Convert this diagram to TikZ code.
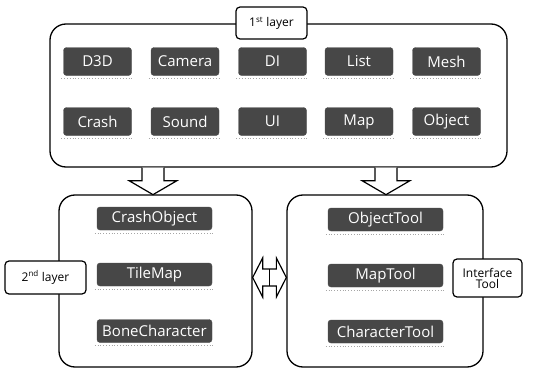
\documentclass[tikz,border=0pt]{standalone}
\usepackage{fontspec}
\setmainfont{Open Sans}
\usetikzlibrary{calc}
\begin{document}
\begin{tikzpicture}[x=1pt,y=-1pt,
  bigbox/.style={draw, line width=1.3pt, rounded corners=16pt, fill=white, inner sep=0pt},
  lbl/.style={draw, line width=1.2pt, rounded corners=4pt, fill=white, font=\fontsize{12}{13}\selectfont, inner sep=1pt, align=center},
  mod/.style={draw=gray!60!black, fill=black!72, rounded corners=3pt, text=white, font=\fontsize{15}{16}\selectfont, inner sep=0pt},
  modA/.style={mod, minimum width=68pt, minimum height=28pt},
  modB/.style={mod, minimum width=115pt, minimum height=23pt},
  shadowline/.style={draw=gray!70, line width=0.8pt, dotted},
  blockarrow/.style={draw, line width=1.2pt, fill=white, line join=miter}
]
\useasboundingbox (0,0) rectangle (560,372);

% top layer
\node[bigbox, minimum width=457pt, minimum height=143pt] (L1) at (278.5,95.5) {};
\node[lbl, minimum width=71pt, minimum height=32pt] (L1lab) at (271.5,23) {1\textsuperscript{st} layer};

\foreach \n/\t/\x in {d3d/D3D/97.5, cam/Camera/185, di/DI/272.5, lst/List/359, msh/Mesh/446.5}
  \node[modA] (\n) at (\x,61.5) {\t};
\foreach \n/\t/\x in {crs/Crash/97.5, snd/Sound/185, ui/UI/272.5, map/Map/359, obj/Object/446.5}
  \node[modA] (\n) at (\x,121.5) {\t};

% bottom boxes
\node[bigbox, minimum width=193pt, minimum height=172pt] (L2) at (155.5,281) {};
\node[bigbox, minimum width=196pt, minimum height=172pt] (TL) at (385,281) {};

\node[lbl, minimum width=81pt, minimum height=33pt] (L2lab) at (45.5,277.5) {2\textsuperscript{nd} layer};
\node[lbl, minimum width=69pt, minimum height=38pt] (TLlab) at (487.5,278) {Interface\\[-2pt]Tool};

\foreach \n/\t/\y in {cob/CrashObject/218.5, tmp/TileMap/274.5, bch/BoneCharacter/331}
  \node[modB] (\n) at (154.5,\y) {\t};
\foreach \n/\t/\y in {otl/ObjectTool/219.5, mtl/MapTool/275.5, ctl/CharacterTool/331.5}
  \node[modB] (\n) at (385.5,\y) {\t};

\foreach \n in {d3d,cam,di,lst,msh,crs,snd,ui,map,obj,cob,tmp,bch,otl,mtl,ctl}
  \draw[shadowline] ([xshift=-2pt,yshift=-3pt]\n.south west) -- ([xshift=2pt,yshift=-3pt]\n.south east);

% down block arrows
\coordinate (a1) at ($(L1.south)+(-125.5,0)$);
\coordinate (a2) at ($(L1.south)+(107.5,0)$);
\foreach \a in {a1,a2}
  \draw[blockarrow] (\a) ++(-11,0) -- ++(0,13) -- ++(-13,0) -- ++(24,14) -- ++(24,-14) -- ++(-13,0) -- ++(0,-13);

% double arrow
\coordinate (dl) at ($(L2.east)+(0,-3.5)$);
\coordinate (dr) at ($(TL.west)+(0,-3.5)$);
\draw[blockarrow] (dl) -- ($(dl)+(10,-19.5)$) -- ($(dl)+(10,-8.5)$) -- ($(dr)+(-10,-8.5)$) -- ($(dr)+(-10,-19.5)$) -- (dr)
  -- ($(dr)+(-10,19.5)$) -- ($(dr)+(-10,8.5)$) -- ($(dl)+(10,8.5)$) -- ($(dl)+(10,19.5)$) -- cycle;
\draw[line width=1.2pt] ($(dl)!0.5!(dr)+(0,-8.5)$) -- ($(dl)!0.5!(dr)+(0,8.5)$);
\end{tikzpicture}
\end{document}
